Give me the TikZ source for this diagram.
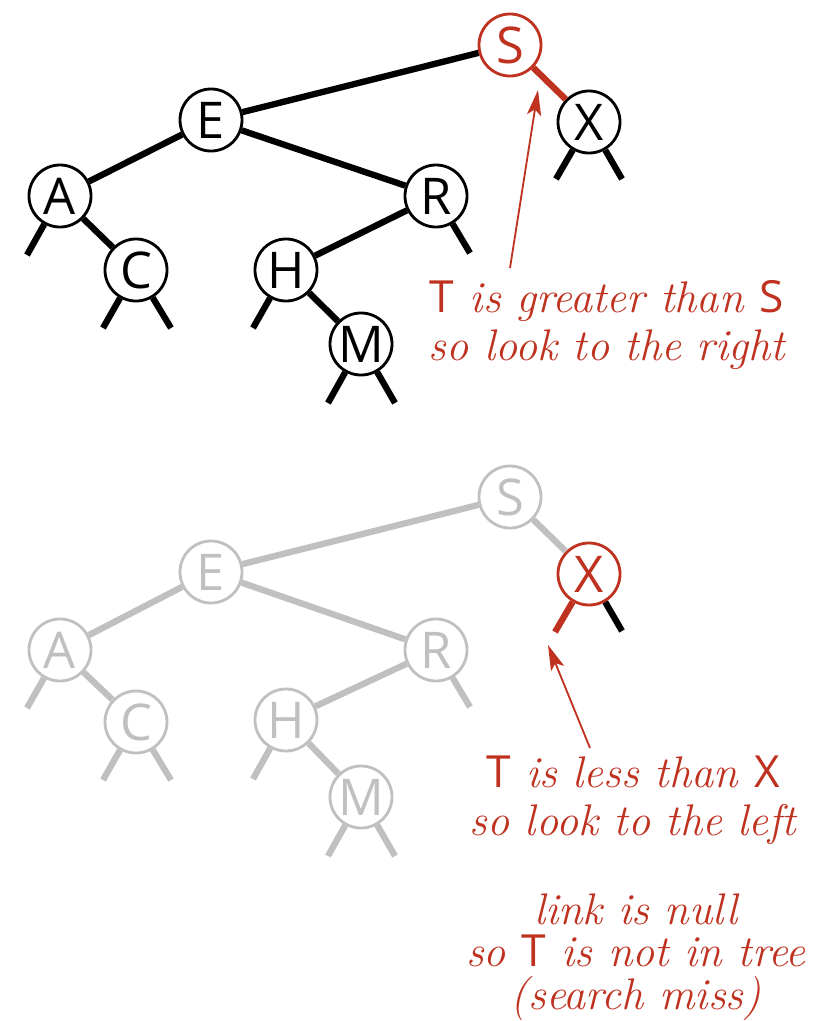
\documentclass[tikz,border=0pt]{standalone}
\usepackage{fontspec}
\setsansfont{Open Sans}
\usetikzlibrary{arrows.meta}
\definecolor{hilite}{RGB}{192,50,32}
\definecolor{faded}{RGB}{192,192,192}
\newcommand{\keyfont}{\sffamily\fontsize{36}{36}\selectfont}
\newcommand{\ky}[1]{\textup{\sffamily #1}}

\begin{document}
\begin{tikzpicture}[x=0.025cm, y=-0.025cm,
        key/.style={circle, draw, line width=2pt, minimum size=1.55cm, inner sep=0pt, fill=white, font=\keyfont},
        dim/.style={draw=faded, text=faded},
        hot/.style={draw=hilite, text=hilite},
        link/.style={line width=4.5pt},
        note/.style={align=center, text=hilite, font=\itshape\fontsize{31.5}{34}\selectfont},
        pointer/.style={-{Stealth[length=18pt, width=10pt, inset=4pt]}, line width=1.3pt, draw=hilite}
    ]
        \useasboundingbox (0,0) rectangle (816,1021);

        % top tree: compare with S
        \node[key, hot] (S)  at (510, 45)  {S};
        \node[key] (E)  at (211, 120) {E};
        \node[key] (X)  at (589, 122) {X};
        \node[key] (A)  at (60, 196)  {A};
        \node[key] (R)  at (436, 196) {R};
        \node[key] (C)  at (136, 270) {C};
        \node[key] (H)  at (286, 270) {H};
        \node[key] (M)  at (361, 344) {M};

        \coordinate (Al) at (27, 255);
        \coordinate (Cl) at (103, 328);
        \coordinate (Cr) at (171, 328);
        \coordinate (Hl) at (253, 328);
        \coordinate (Mr) at (395, 403);
        \coordinate (Ml) at (328, 403);
        \coordinate (Rr) at (470, 253);
        \coordinate (Xl) at (556, 179);
        \coordinate (Xr) at (622, 179);

        \draw[link] (S) -- (E);
        \draw[link, hilite] (S) -- (X);
        \draw[link] (E) -- (A);
        \draw[link] (E) -- (R);
        \draw[link] (A) -- (C);
        \draw[link] (R) -- (H);
        \draw[link] (H) -- (M);
        \draw[link] (A) -- (Al);
        \draw[link] (C) -- (Cl);
        \draw[link] (C) -- (Cr);
        \draw[link] (H) -- (Hl);
        \draw[link] (M) -- (Ml);
        \draw[link] (M) -- (Mr);
        \draw[link] (R) -- (Rr);
        \draw[link] (X) -- (Xl);
        \draw[link] (X) -- (Xr);

        \node[note] (rightnote) at (607, 325) {\ky{T} is greater than \ky{S}\\so look to the right};
        \coordinate (tail1) at (510, 268);
        \coordinate (tip1) at (538, 90);
        \draw[pointer] (tail1) -- (tip1);

        % bottom tree: compare with X
        \node[key, dim] (S2) at (510, 497) {S};
        \node[key, dim] (E2) at (211, 572) {E};
        \node[key, hot] (X2) at (589, 574) {X};
        \node[key, dim] (A2) at (60, 650)  {A};
        \node[key, dim] (R2) at (436, 650) {R};
        \node[key, dim] (C2) at (136, 722) {C};
        \node[key, dim] (H2) at (286, 720) {H};
        \node[key, dim] (M2) at (361, 797) {M};

        \coordinate (Al2) at (27, 708);
        \coordinate (Cl2) at (103, 780);
        \coordinate (Cr2) at (171, 780);
        \coordinate (Hl2) at (253, 779);
        \coordinate (Ml2) at (328, 856);
        \coordinate (Mr2) at (395, 856);
        \coordinate (Rr2) at (470, 707);
        \coordinate (Xl2) at (555, 632);
        \coordinate (Xr2) at (622, 631);

        \draw[link, faded] (S2) -- (E2);
        \draw[link, faded] (S2) -- (X2);
        \draw[link, faded] (E2) -- (A2);
        \draw[link, faded] (E2) -- (R2);
        \draw[link, faded] (A2) -- (C2);
        \draw[link, faded] (R2) -- (H2);
        \draw[link, faded] (H2) -- (M2);
        \draw[link, faded] (A2) -- (Al2);
        \draw[link, faded] (C2) -- (Cl2);
        \draw[link, faded] (C2) -- (Cr2);
        \draw[link, faded] (H2) -- (Hl2);
        \draw[link, faded] (M2) -- (Ml2);
        \draw[link, faded] (M2) -- (Mr2);
        \draw[link, faded] (R2) -- (Rr2);
        \draw[link, hilite] (X2) -- (Xl2);
        \draw[link] (X2) -- (Xr2);

        \node[note] (leftnote) at (633, 800) {\ky{T} is less than \ky{X}\\so look to the left};
        \node[note, font=\itshape\fontsize{31.5}{30}\selectfont] (missnote) at (636, 957) {link is null\\so \ky{T} is not in tree\\(search miss)};
        \coordinate (tail2) at (590, 748);
        \coordinate (tip2) at (548, 645);
        \draw[pointer] (tail2) -- (tip2);
    \end{tikzpicture}
\end{document}
